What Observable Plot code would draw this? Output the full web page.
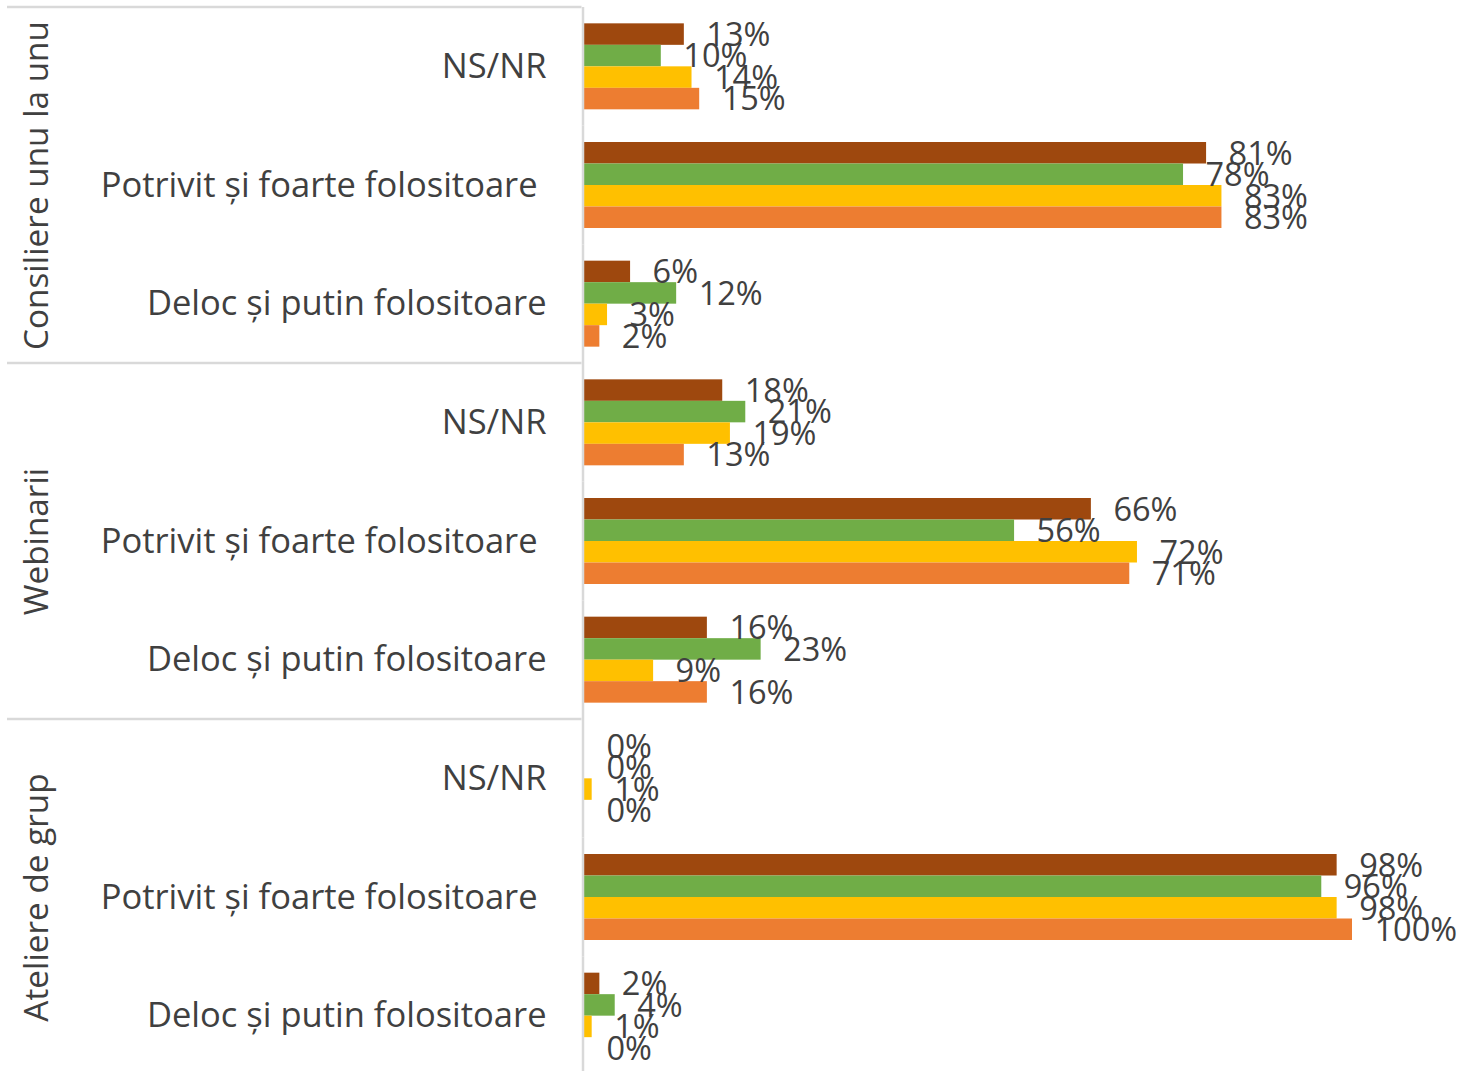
<!DOCTYPE html>
<html>
<head>
<meta charset="utf-8">
<script src="https://cdn.jsdelivr.net/npm/d3@7"></script>
<script src="https://cdn.jsdelivr.net/npm/@observablehq/plot@0.6"></script>
<style>
  html, body { margin: 0; padding: 0; background: #fff; overflow: hidden; }
  #chart svg { display: block; }
  #chart svg text { white-space: pre; }
</style>
</head>
<body>
<div id="chart"></div>
<script>
const groups = ["Consiliere unu la unu", "Webinarii", "Ateliere de grup"];
const categories = ["NS/NR", "Potrivit și foarte folositoare ", "Deloc și putin folositoare"];
const series = ["Seria 1", "Seria 2", "Seria 3", "Seria 4"];
const colors = ["#9E480E", "#70AD47", "#FFC000", "#ED7D31"];

// values[group][category][series], in percent
const consiliereValues = [
  [13, 10, 14, 15],
  [81, 78, 83, 83],
  [6, 12, 3, 2]
];
const webinariiValues = [
  [18, 21, 19, 13],
  [66, 56, 72, 71],
  [16, 23, 9, 16]
];
const ateliereValues = [
  [0, 0, 1, 0],
  [98, 96, 98, 100],
  [2, 4, 1, 0]
];
const allValues = [consiliereValues, webinariiValues, ateliereValues];

const SEP = "|";
const facetKeys = [];
groups.forEach(g => categories.forEach(c => facetKeys.push(g + SEP + c)));

const data = [];
groups.forEach((g, gi) => categories.forEach((c, ci) => series.forEach((s, si) => {
  data.push({group: g, category: c, key: g + SEP + c, series: s, value: allValues[gi][ci][si] / 100});
})));

const groupLabels = groups.map(g => ({key: g + SEP + categories[1], label: g}));

const font = "'Open Sans', sans-serif";
const textColor = "#404040";
const marginLeft = 584;

const chart = Plot.plot({
  width: 1462,
  height: 1075,
  marginTop: 7,
  marginBottom: 0,
  marginLeft: marginLeft,
  marginRight: 110,
  style: {fontFamily: font, color: textColor, background: "#fff"},
  x: {domain: [0, 1], axis: null},
  y: {domain: series, paddingInner: 0, paddingOuter: 0.76, round: false, axis: null},
  fy: {domain: facetKeys, padding: 0, round: false, label: null},
  color: {domain: series, range: colors},
  marks: [
    Plot.axisFy({
      anchor: "left",
      tickSize: 0,
      tickPadding: 38,
      fontSize: 34.5,
      tickFormat: d => d.split(SEP)[1],
      fill: textColor
    }),
    Plot.barX(data, {x: "value", y: "series", fy: "key", fill: "series"}),
    Plot.ruleX([0], {stroke: "#d9d9d9", strokeWidth: 2.5, dx: -1.5}),
    Plot.text(data, {
      x: "value", y: "series", fy: "key",
      text: d => Math.round(d.value * 100) + "%",
      textAnchor: "start", dx: 22, dy: 1,
      fontSize: 32.5, fill: textColor
    }),
    Plot.text(groupLabels, {
      fy: "key", text: "label",
      frameAnchor: "left", textAnchor: "middle", rotate: -90, dx: -547,
      fontSize: 33.3, fill: textColor
    })
  ]
});

document.getElementById("chart").appendChild(chart);

// horizontal separators between groups in the label area
const fy = chart.scale("fy");
const svg = d3.select(chart);
groups.forEach(g => {
  const yTop = fy.apply(g + SEP + categories[0]);
  svg.append("line")
    .attr("x1", 7).attr("x2", marginLeft - 2.5)
    .attr("y1", yTop).attr("y2", yTop)
    .attr("stroke", "#d9d9d9").attr("stroke-width", 2.5);
});
</script>
</body>
</html>
